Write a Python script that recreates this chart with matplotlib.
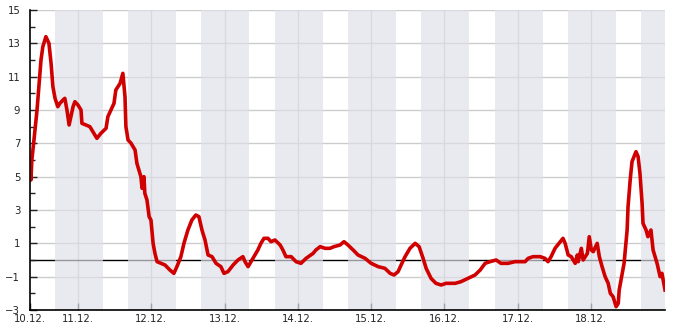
import numpy as np
import matplotlib
matplotlib.use("Agg")
import matplotlib.pyplot as plt

# hours since 10.12. 00:00 and temperature
hours = [8.3, 8.6, 8.9, 9.6, 10.6, 11.3, 11.9, 12.5, 13.5, 14.5, 15.2, 15.8, 16.5,
         17.4, 18.1, 19.1, 19.7, 20.4, 21.1, 21.7, 22.4, 23.0, 24.0, 25.0, 25.3,
         26.6, 27.9, 28.9, 30.2, 31.5, 33.2, 33.8, 34.8, 35.8, 36.4, 37.8, 38.7,
         39.4, 39.7, 40.4, 41.4, 42.7, 43.3, 44.6, 45.0, 45.6, 45.9, 46.6, 47.3,
         47.9, 48.6, 49.2, 49.9, 51.2, 52.5, 54.1, 55.4, 56.4, 57.7, 58.7, 60.0,
         61.3, 62.6, 63.6, 64.6, 65.6, 66.6, 67.9, 69.2, 70.8, 71.8, 73.1, 74.8,
         76.4, 78.0, 78.7, 79.7, 81.3, 82.9, 83.9, 84.9, 86.2, 87.2, 88.5, 90.2,
         91.1, 92.1, 93.8, 95.4, 97.0, 98.7, 101.0, 101.9, 103.3, 104.9, 106.5,
         107.8, 109.8, 111.1, 112.4, 114.1, 115.7, 118.0, 120.0, 122.3, 124.5,
         126.2, 127.5, 128.8, 129.8, 131.1, 132.7, 134.4, 135.7, 137.0, 138.0,
         139.6, 141.2, 142.9, 144.5, 147.5, 149.4, 151.7, 154.0, 155.7, 157.3,
         158.9, 160.9, 162.5, 164.8, 167.1, 170.4, 171.4, 173.0, 175.3, 176.9,
         177.9, 178.9, 180.2, 181.5, 182.8, 183.5, 184.5, 185.5, 186.8, 187.5,
         187.8, 188.8, 189.4, 190.8, 191.4, 192.1, 192.7, 194.0, 194.7, 195.6,
         196.6, 197.6, 198.3, 199.2, 200.2, 200.9, 201.2, 202.2, 202.8, 203.8,
         204.1, 204.8, 205.4, 206.7, 207.4, 208.0, 208.7, 209.0, 210.0, 210.6,
         211.6, 212.3, 213.6, 214.6, 215.2, 216.2]
temps = [5.8, 4.8, 6.0, 7.2, 9.0, 10.6, 12.0, 12.8, 13.4, 13.0, 11.8, 10.4, 9.7,
         9.2, 9.4, 9.6, 9.7, 9.0, 8.1, 8.6, 9.2, 9.5, 9.3, 9.0, 8.2,
         8.1, 8.0, 7.7, 7.3, 7.6, 7.9, 8.6, 9.0, 9.4, 10.2, 10.6, 11.2,
         9.8, 8.0, 7.2, 7.0, 6.6, 5.8, 5.0, 4.3, 5.0, 4.0, 3.6, 2.6,
         2.4, 1.0, 0.4, -0.1, -0.2, -0.3, -0.6, -0.8, -0.4, 0.2, 1.0, 1.8,
         2.4, 2.7, 2.6, 1.8, 1.2, 0.3, 0.2, -0.2, -0.4, -0.8, -0.7, -0.3,
         0.0, 0.2, -0.1, -0.4, 0.1, 0.6, 1.0, 1.3, 1.3, 1.1, 1.2, 0.9,
         0.6, 0.2, 0.2, -0.1, -0.2, 0.1, 0.4, 0.6, 0.8, 0.7, 0.7,
         0.8, 0.9, 1.1, 0.9, 0.6, 0.3, 0.1, -0.2, -0.4, -0.5,
         -0.8, -0.9, -0.7, -0.3, 0.2, 0.7, 1.0, 0.8, 0.1, -0.5,
         -1.1, -1.4, -1.5, -1.4, -1.4, -1.3, -1.1, -0.9, -0.6, -0.2,
         -0.1, 0.0, -0.2, -0.2, -0.1, -0.1, 0.1, 0.2, 0.2, 0.1,
         -0.1, 0.2, 0.7, 1.0, 1.3, 1.0, 0.3, 0.2, -0.2, 0.3,
         -0.1, 0.7, 0.0, 0.4, 1.4, 0.6, 0.5, 1.0, 0.2, -0.4,
         -1.0, -1.4, -2.0, -2.2, -2.8, -2.6, -1.8, -0.8, -0.2, 1.8,
         3.2, 4.8, 5.9, 6.5, 6.2, 5.2, 3.4, 2.2, 1.8, 1.4,
         1.8, 0.6, -0.2, -1.0, -0.8, -1.8]

day_labels = ["10.12.", "11.12.", "12.12.", "13.12.", "14.12.",
              "15.12.", "16.12.", "17.12.", "18.12."]
night_start = 16.4   # hour of day when shading starts
night_end = 8.15     # hour of next day when it ends

x_start, x_end = 8.3, 216.2

fig = plt.figure(figsize=(6.85, 3.30), dpi=100)
ax = fig.add_axes([30/685, 20/330, 635/685, 300/330])

ax.set_xlim(x_start, x_end)
ax.set_ylim(-3, 15)

# grid
for y in range(-3, 16, 2):
    ax.axhline(y, color="#cccccc", lw=1.0, zorder=0)
for d in range(1, 9):
    ax.axvline(d * 24, color="#cccccc", lw=1.0, zorder=0)
ax.axhline(0, color="black", lw=1.0, zorder=1)

# night bands
for d in range(0, 9):
    ax.axvspan(d * 24 + night_start, (d + 1) * 24 + night_end,
               color=(0.873, 0.879, 0.913), alpha=0.68, lw=0, zorder=2)

ax.plot(hours, temps, color="#d10000", lw=2.6, zorder=3)

ax.set_xticks([x_start] + [d * 24 for d in range(1, 9)])
ax.set_xticklabels(day_labels)
ax.set_yticks(range(-3, 16, 2))
ax.set_yticks(range(-2, 15, 2), minor=True)

ax.tick_params(axis="x", direction="in", length=5, width=1, pad=3,
               labelsize=7.3, colors="#222222")
ax.tick_params(axis="y", direction="in", length=5, width=1, pad=7,
               labelsize=7.3, colors="#222222")
ax.tick_params(axis="y", which="minor", direction="in", length=3.5, width=1,
               colors="#222222")

for s in ["top", "right"]:
    ax.spines[s].set_visible(False)
for s in ["left", "bottom"]:
    ax.spines[s].set_color("black")
    ax.spines[s].set_linewidth(1.2)
    ax.spines[s].set_zorder(5)

fig.savefig("out.png", dpi=100)
